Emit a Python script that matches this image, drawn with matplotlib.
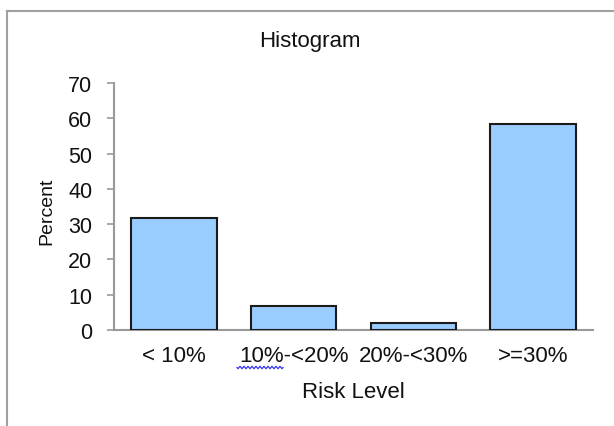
import numpy as np
import matplotlib
matplotlib.use("Agg")
import matplotlib.pyplot as plt
from matplotlib.lines import Line2D

# Histogram data
categories = ["< 10%", "10%-<20%", "20%-<30%", ">=30%"]
percent = [31.7, 6.8, 1.9, 58.4]
y_ticks = [0, 10, 20, 30, 40, 50, 60, 70]

W, H = 614, 427
plt.rcParams["font.family"] = ["Liberation Sans", "DejaVu Sans"]

fig = plt.figure(figsize=(W / 100, H / 100), dpi=100)
fig.patch.set_facecolor("white")

# plot area in pixel terms
x0, x1 = 114, 593
y_top, y_base = 84, 331
ax = fig.add_axes([x0 / W, (H - y_base) / H, (x1 - x0) / W, (y_base - y_top) / H])

x = np.arange(len(categories))
ax.bar(x, percent, width=0.714, color="#99CCFF", edgecolor="#1a1a1a", linewidth=1.5, zorder=3)

ax.set_xlim(-0.5, len(categories) - 0.5)
ax.set_ylim(0, 70)
ax.set_yticks(y_ticks)
ax.set_xticks(x)
ax.set_xticklabels(categories)

for side in ("top", "right"):
    ax.spines[side].set_visible(False)
for side in ("left", "bottom"):
    ax.spines[side].set_color("#9a9a9a")
    ax.spines[side].set_linewidth(1.5)

ax.tick_params(axis="y", direction="out", length=5, width=1.2, color="#9a9a9a",
               pad=10.5, labelsize=15.5, labelcolor="#111111")
ax.tick_params(axis="x", length=0, pad=11, labelsize=16, labelcolor="#111111")

ax.set_ylabel("Percent", fontsize=14, color="#111111")
ax.yaxis.set_label_coords(-0.123, 0.486)
ax.set_xlabel("Risk Level", fontsize=16, color="#111111")
ax.xaxis.set_label_coords(0.5, -0.205)

fig.text(310 / W, 1 - 42 / H, "Histogram", ha="center", va="center",
         fontsize=16, color="#111111")

# outer chart frame (left and top edges visible)
frame_kw = dict(color="#a0a0a0", linewidth=1.5, transform=fig.transFigure)
fig.add_artist(Line2D([7 / W, 7 / W], [0, 1 - 12 / H], **frame_kw))
fig.add_artist(Line2D([7 / W, 1], [1 - 12 / H, 1 - 12 / H], **frame_kw))

# spell-check squiggle under "10%" of the second label
sx = np.linspace(237, 283, 47)
sy = 368.5 + 1.2 * np.sin((sx - 237) * np.pi / 2.0)
fig.add_artist(Line2D(sx / W, 1 - sy / H, color="#3333ee", linewidth=0.9,
                      transform=fig.transFigure))

fig.savefig("out.png", dpi=100, facecolor="white")
